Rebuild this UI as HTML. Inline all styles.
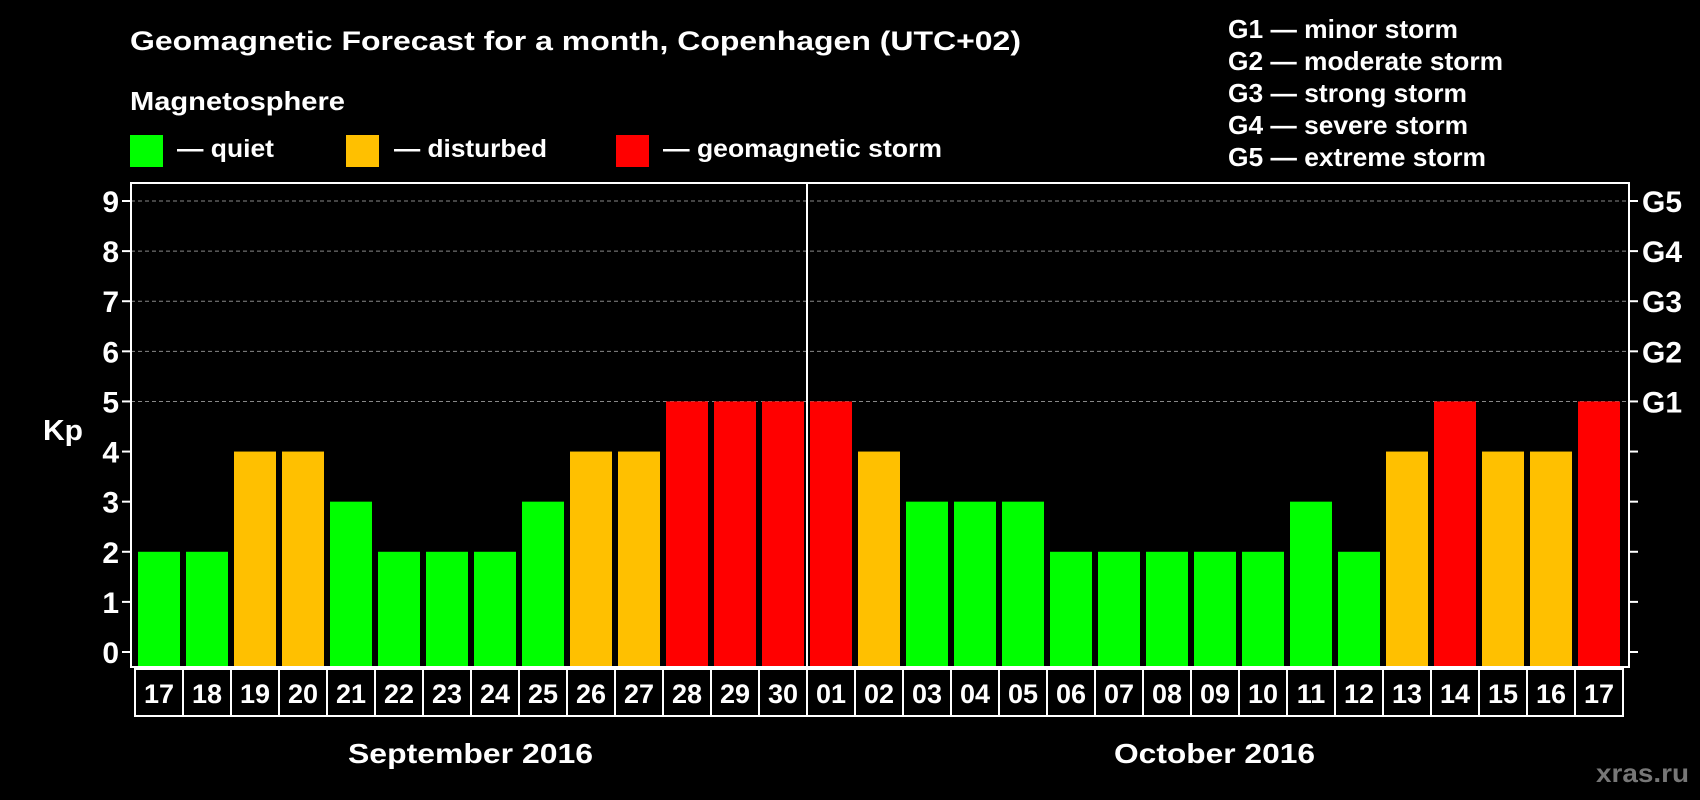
<!DOCTYPE html>
<html><head><meta charset="utf-8"><style>
body{margin:0;background:#000;width:1700px;height:800px;overflow:hidden}
svg{display:block}
text{font-family:"Liberation Sans",sans-serif;font-weight:bold;fill:#fff}
</style></head><body>
<svg id="c" width="1700" height="800">
<text x="130" y="50" font-size="27" textLength="891" lengthAdjust="spacingAndGlyphs">Geomagnetic Forecast for a month, Copenhagen (UTC+02)</text>
<text x="130" y="110" font-size="26" textLength="215" lengthAdjust="spacingAndGlyphs">Magnetosphere</text>
<g>
<rect x="130" y="135" width="33" height="32" fill="#00ff00"/>
<text x="177" y="157" font-size="25" textLength="97" lengthAdjust="spacingAndGlyphs">— quiet</text>
<rect x="346" y="135" width="33" height="32" fill="#ffc000"/>
<text x="394" y="157" font-size="25" textLength="153" lengthAdjust="spacingAndGlyphs">— disturbed</text>
<rect x="616" y="135" width="33" height="32" fill="#ff0000"/>
<text x="663" y="157" font-size="25" textLength="279" lengthAdjust="spacingAndGlyphs">— geomagnetic storm</text>
</g>
<g>
<text x="1228" y="38" font-size="26" textLength="230" lengthAdjust="spacingAndGlyphs">G1 — minor storm</text>
<text x="1228" y="70" font-size="26" textLength="275" lengthAdjust="spacingAndGlyphs">G2 — moderate storm</text>
<text x="1228" y="102" font-size="26" textLength="239" lengthAdjust="spacingAndGlyphs">G3 — strong storm</text>
<text x="1228" y="134" font-size="26" textLength="240" lengthAdjust="spacingAndGlyphs">G4 — severe storm</text>
<text x="1228" y="166" font-size="26" textLength="258" lengthAdjust="spacingAndGlyphs">G5 — extreme storm</text>
</g>
<text x="43" y="440" font-size="29" textLength="40" lengthAdjust="spacingAndGlyphs">Kp</text>
<text x="348" y="763" font-size="28" textLength="245" lengthAdjust="spacingAndGlyphs">September 2016</text>
<text x="1114" y="763" font-size="28" textLength="201" lengthAdjust="spacingAndGlyphs">October 2016</text>
<text x="1596" y="782" font-size="26" textLength="93" lengthAdjust="spacingAndGlyphs" style="fill:#777">xras.ru</text>
<g id="plot"></g>
</svg>
<script>
const days=["17","18","19","20","21","22","23","24","25","26","27","28","29","30","01","02","03","04","05","06","07","08","09","10","11","12","13","14","15","16","17"];
const kp=[2,2,4,4,3,2,2,2,3,4,4,5,5,5,5,4,3,3,3,2,2,2,2,2,3,2,4,5,4,4,5];
const yTicks=[0,1,2,3,4,5,6,7,8,9];
const gLabels=["G1","G2","G3","G4","G5"];
const NS="http://www.w3.org/2000/svg";
const g=document.getElementById('plot');
const L=131,R=1629,T=183,B=667,Y0=652,U=(652-201)/9,X0=135,P=48;
const y=v=>Y0-v*U;
const x=i=>X0+i*P;
function mk(t,a){const e=document.createElementNS(NS,t);for(const k in a)e.setAttribute(k,a[k]);g.appendChild(e);return e;}
const col=v=>v>=5?"#ff0000":v>=4?"#ffc000":"#00ff00";
yTicks.forEach(v=>{
 if(v>=5){const l=mk('line',{x1:L,x2:R,y1:y(v),y2:y(v),stroke:'#888','stroke-width':1,'stroke-dasharray':'4,3'});
 
 }
 const t1=mk('line',{x1:L-9,x2:L,y1:y(v),y2:y(v),stroke:'#fff','stroke-width':2});
 
 
 const t2=mk('line',{x1:R,x2:R+9,y1:y(v),y2:y(v),stroke:'#fff','stroke-width':2});
 
 
 const tx=mk('text',{x:119,y:y(v)+11,'font-size':30,'text-anchor':'end'});tx.textContent=v;
 
 
});
gLabels.forEach((s,i)=>{
 const tx=mk('text',{x:1642,y:y(5+i)+11,'font-size':30});tx.textContent=s;
 
 
});
kp.forEach((v,i)=>{
 const r=mk('rect',{x:x(i)+3,y:y(v),width:42,height:B-y(v),fill:col(v)});
 
 
});
days.forEach((d,i)=>{
 const r=mk('rect',{x:x(i),y:B+2,width:P,height:47,fill:'none',stroke:'#fff','stroke-width':2});
 
 
 const t=mk('text',{x:x(i)+P/2,y:B+36,'font-size':27,'text-anchor':'middle'});t.textContent=d;
 
 
});
const fr=mk('rect',{x:L,y:T,width:R-L,height:B-T,fill:'none',stroke:'#fff','stroke-width':2});


const sep=mk('line',{x1:x(14),x2:x(14),y1:T,y2:B,stroke:'#fff','stroke-width':2});


</script>
</body></html>
